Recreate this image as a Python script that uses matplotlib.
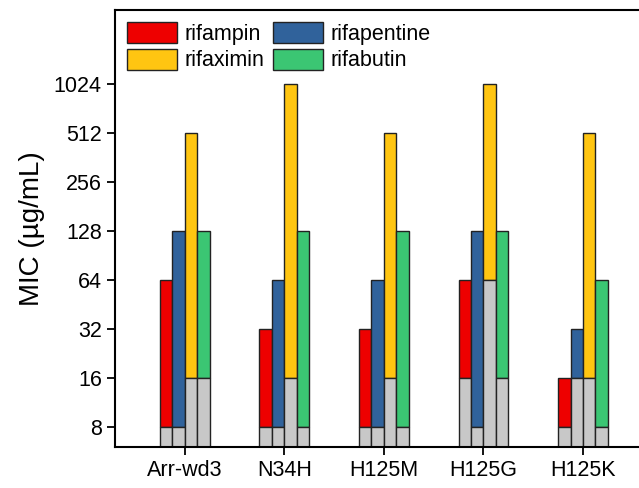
import matplotlib
matplotlib.use("Agg")
import matplotlib.pyplot as plt
import numpy as np

plt.rcParams['font.family'] = ['Liberation Sans', 'DejaVu Sans']

strains = ['Arr-wd3', 'N34H', 'H125M', 'H125G', 'H125K']
drugs = ['rifampin', 'rifapentine', 'rifaximin', 'rifabutin']
colors = ['#EE0000', '#30629B', '#FFC511', '#3BC673']
gray = '#C8C8C8'

# MIC values (top of coloured bar) and the grey lower part
mic = {
    'rifampin':    [64, 32, 32, 64, 16],
    'rifapentine': [128, 64, 64, 128, 32],
    'rifaximin':   [512, 1024, 512, 1024, 512],
    'rifabutin':   [128, 128, 128, 128, 64],
}
mic_gray = {
    'rifampin':    [8, 8, 8, 16, 8],
    'rifapentine': [8, 8, 8, 8, 16],
    'rifaximin':   [16, 16, 16, 64, 16],
    'rifabutin':   [16, 8, 8, 16, 8],
}
yticks = [8, 16, 32, 64, 128, 256, 512, 1024]

fig = plt.figure(figsize=(6.39, 4.88), dpi=100)
ax = fig.add_axes([0.18, 0.084, 0.825, 0.8955])

ybot = 6.05
x = np.arange(len(strains))
w = 0.125
handles = []
for i, d in enumerate(drugs):
    pos = x + (i - 1.5) * w
    top = np.array(mic[d], float)
    g = np.array(mic_gray[d], float)
    h = ax.bar(pos, top - g, w, bottom=g, color=colors[i], edgecolor='#222222',
               linewidth=1, label=d, zorder=2)
    ax.bar(pos, g - ybot, w, bottom=ybot, color=gray, edgecolor='#222222',
           linewidth=1, zorder=2)
    handles.append(h)

ax.set_yscale('log', base=2)
ax.set_ylim(ybot, 2920)
ax.set_yticks(yticks)
ax.set_yticklabels([str(v) for v in yticks])
ax.minorticks_off()
ax.set_xlim(-0.699, 4.594)
ax.set_xticks(x)
ax.set_xticklabels(strains)
ax.tick_params(labelsize=15.5, length=6, width=1.3, direction='out')
ax.set_ylabel('MIC (\u00b5g/mL)', fontsize=20, labelpad=6)

for s in ['left', 'bottom', 'top']:
    ax.spines[s].set_linewidth(1.5)
ax.spines['right'].set_visible(False)

# row-wise legend order: rifampin, rifapentine / rifaximin, rifabutin
order = [0, 2, 1, 3]
ax.legend([handles[k] for k in order], [drugs[k] for k in order],
          loc='upper left', ncol=2, frameon=False, fontsize=15.5,
          handlelength=2.33, handleheight=1.12, labelspacing=0.19,
          handletextpad=0.37, columnspacing=0.37, borderaxespad=0.3,
          borderpad=0.25)

fig.savefig('out.png', dpi=100)
